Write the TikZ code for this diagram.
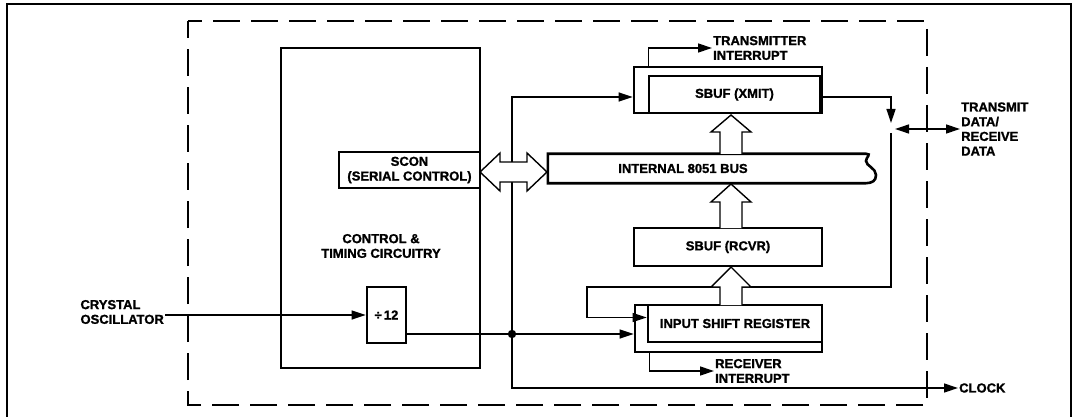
\documentclass[tikz,border=0pt]{standalone}
\usepackage{fontspec}
\setmainfont{Liberation Sans}[BoldFeatures={FakeBold=1.3}]
\usetikzlibrary{arrows.meta}

\begin{document}
\begin{tikzpicture}[x=1pt,y=-1pt]
\tikzstyle{blk} = [draw, line width=2.6pt, inner sep=0pt, font=\bfseries\fontsize{13}{14.7}\selectfont, align=center]
\tikzstyle{lbl} = [inner sep=1pt, font=\bfseries\fontsize{13}{14.7}\selectfont, align=left]
\tikzstyle{wire} = [line width=1.3pt]
\tikzstyle{arr} = [-{Triangle[length=14pt,width=9pt]}]
\tikzstyle{hollow} = [draw, fill=white, line width=1.4pt, line join=miter]

\useasboundingbox (0,0) rectangle (1076,417);

\draw[line width=2pt] (7,417) -- (7,4) -- (1071,4) -- (1071,417);
\draw[line width=2.8pt, dash pattern=on 27pt off 11pt, dash phase=13pt] (188,21) -- (927,21) -- (927,405) -- (188,405) -- cycle;

% timing block
\node[blk, minimum width=199pt, minimum height=320pt] (ctrl) at (380.5,208) {};
\node[lbl, align=center] (ctrltxt) at (381,246) {CONTROL \&\\TIMING CIRCUITRY};
\node[blk, minimum width=141pt, minimum height=36pt] (scon) at (409.5,170) {SCON\\(SERIAL CONTROL)};
\node[blk, minimum width=39pt, minimum height=56pt] (div) at (386.5,315) {÷\,12};

% buffers
\node[blk, minimum width=188pt, minimum height=46pt] (xmit) at (728,90) {};
\node[blk, minimum width=171pt, minimum height=37pt] (xmitbuf) at (734.5,94.5) {SBUF (XMIT)};
\node[blk, minimum width=188pt, minimum height=38pt] (rcvr) at (728,247) {SBUF (RCVR)};
\node[blk, minimum width=187pt, minimum height=47pt] (isr) at (728.5,328.5) {};
\node[blk, minimum width=174pt, minimum height=37pt] (isrbuf) at (735,323.5) {INPUT SHIFT REGISTER};

\node[minimum width=318pt, minimum height=29pt, inner sep=0pt] (bus) at (707,168.5) {};
\draw[line width=2.6pt] (bus.south east) -- (bus.south west) -- (bus.north west) -- (bus.north east)
  .. controls (872,154) and (866,157) .. (866,161)
  .. controls (866,166) and (876,168) .. (876,175)
  .. controls (876,181) and (872,183) .. (bus.south east);
\node[lbl] (bustxt) at (683,168.5) {INTERNAL 8051 BUS};

% labels
\node[lbl, anchor=east] (xtal) at (165,312) {CRYSTAL\\OSCILLATOR};
\node[lbl, anchor=west] (clk) at (958,388) {CLOCK};
\node[lbl, anchor=west] (txint) at (712,48) {TRANSMITTER\\INTERRUPT};
\node[lbl, anchor=west] (rxint) at (714,371) {RECEIVER\\INTERRUPT};
\node[lbl, anchor=west] (tdata) at (960,129) {TRANSMIT\\DATA/\\RECEIVE\\DATA};

\coordinate (jn) at (512,334);
\coordinate (xin) at ([yshift=-7pt]xmit.west);
\coordinate (txd) at (891,129);
\coordinate (loop) at (587,287);

\draw[wire,arr] (xtal.east |- div.west) -- (div.west);
\draw[wire] (div.east |- jn) -- (jn);
\draw[wire,arr] (jn) -- (isr.west |- jn);
\draw[wire,arr] (jn) |- (xin);
\draw[wire,arr] (jn) |- (clk.west);
\fill (jn) circle (4.2pt);
\draw[wire,arr] ([xshift=16pt]xmit.north west) |- (txint.west);
\draw[wire,arr] ([xshift=16pt]isr.south west) |- (rxint.west);
\draw[wire,arr] (xmit.east |- xin) -| ([yshift=6pt]txd);
\draw[wire,{Triangle[length=14pt,width=9pt]}-{Triangle[length=14pt,width=9pt]}] ([xshift=4pt]txd) -- (tdata.west);
\draw[wire,arr] ([yshift=-4pt]txd) |- (loop) |- ([yshift=6pt]isrbuf.west);

% bus arrows
\draw[hollow] (720,305) -- (720,287) -- (711,287) -- (731,267) -- (751,287) -- (742,287) -- (742,305);
\draw[hollow] (720,228) -- (720,202) -- (711,202) -- (731,184) -- (751,202) -- (742,202) -- (742,228);
\draw[hollow] (720,154) -- (720,132) -- (711,132) -- (731,115) -- (751,132) -- (742,132) -- (742,154);
\draw[hollow] (480,172) -- (500,153) -- (500,162) -- (527,162) -- (527,153) -- (547,172)
  -- (527,191) -- (527,182) -- (500,182) -- (500,191) -- cycle;

\end{tikzpicture}
\end{document}
